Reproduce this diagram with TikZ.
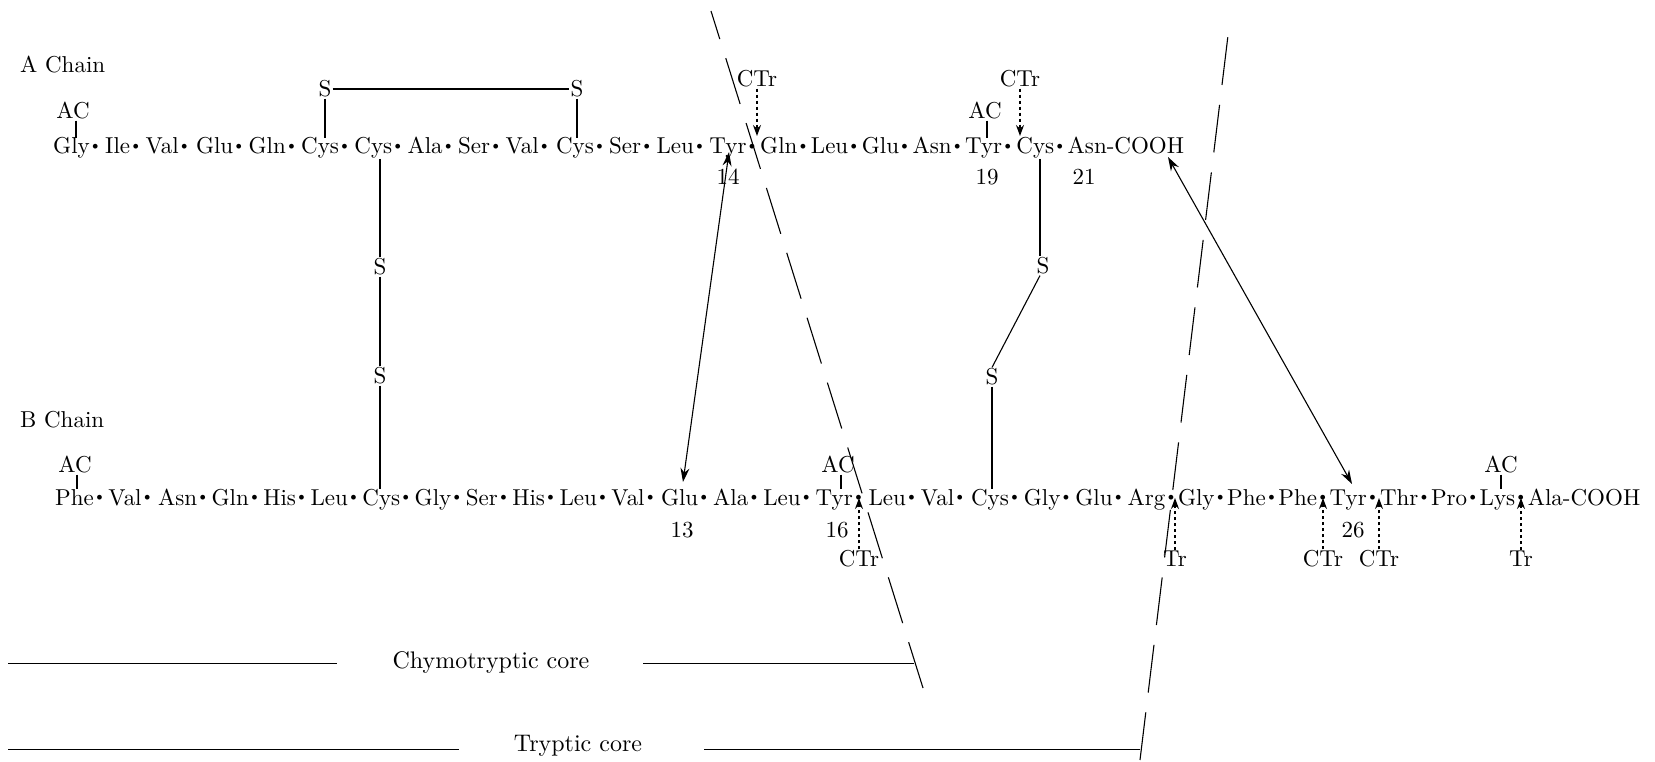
\documentclass[tikz,border=0pt]{standalone}
\usepackage{fontspec}
\setmainfont{lmroman10-regular.otf}
\usetikzlibrary{arrows.meta}
\newcommand\rfont{\fontsize{23}{27}\selectfont}
\newcommand\cfont{\fontsize{24}{29}\selectfont}
\newcommand\rdot{\kern-0.8pt\raisebox{0.16em}{\scalebox{0.72}{\textbullet}}}
\begin{document}
\begin{tikzpicture}[x=1pt,y=-1pt,
  res/.style={anchor=base west,inner sep=0pt,font=\rfont},
  lab/.style={inner sep=1pt,font=\rfont},
  bond/.style={line width=1.1pt},
  enz/.style={line width=1.1pt,dash pattern=on 3.5pt off 2.5pt,-{Stealth[length=11pt,width=8pt]}},
  link/.style={line width=1.1pt,{Stealth[length=14pt,width=9pt]}-{Stealth[length=14pt,width=9pt]}},
  corebound/.style={line width=1.1pt,dash pattern=on 48pt off 20pt},
  coreline/.style={line width=1pt}]
\fill[white] (0,0) rectangle (1655,762);
\useasboundingbox (0,0) rectangle (1655,762);

% chain titles
\node[lab,anchor=west] (achain) at (19,65) {A Chain};
\node[lab,anchor=west] (bchain) at (19,420) {B Chain};

% A chain residues
\foreach \n/\x/\t in {1/53/Gly,2/105/Ile,3/145.3/Val,4/195.8/Glu,5/248.4/Gln,6/301/Cys,
  7/354.2/Cys,8/407.4/Ala,9/457.9/Ser,10/505.3/Val,11/555.8/Cys,12/609/Ser,13/656.4/Leu,
  14/709.2/Tyr,15/760/Gln,16/810.7/Leu,17/861.6/Glu,18/912.3/Asn,19/964.9/Tyr,20/1016.2/Cys}
  \node[res] (a\n) at (\x,154) {\t\rdot};
\node[res] (a21) at (1067.5,154) {Asn-COOH};

% B chain residues
\foreach \n/\x/\t in {1/55/Phe,2/108.2/Val,3/157.8/Asn,4/211.4/Gln,5/263.1/His,6/310.3/Leu,
  7/362.2/Cys,8/414.5/Gly,9/465.6/Ser,10/512.1/His,11/559.3/Leu,12/611.2/Val,13/660.8/Glu,
  14/713/Ala,15/763.1/Leu,16/815.5/Tyr,17/868.3/Leu,18/920.7/Val,19/970.8/Cys,20/1023.6/Gly,
  21/1075.2/Glu,22/1127.4/Arg,23/1177.8/Gly,24/1227/Phe,25/1278.2/Phe,26/1329.5/Tyr,
  27/1379.8/Thr,28/1430.8/Pro,29/1479.5/Lys}
  \node[res] (b\n) at (\x,505) {\t\rdot};
\node[res] (b30) at (1527.6,505) {Ala-COOH};

% residue numbers
\node[lab] (n14) at (728,177) {14};
\node[lab] (n19) at (987,177) {19};
\node[lab] (n21) at (1084,177) {21};
\node[lab] (n13) at (682,530) {13};
\node[lab] (n16) at (837,530) {16};
\node[lab] (n26) at (1353,530) {26};

% AC labels
\node[lab] (acA1) at (73,111) {AC};
\node[lab] (acA19) at (985,111) {AC};
\node[lab] (acB1) at (75,465) {AC};
\node[lab] (acB16) at (838,465) {AC};
\node[lab] (acB29) at (1501,465) {AC};
\draw[bond] ([xshift=3pt]acA1.south) -- ([xshift=3pt]acA1.south |- a1.north);
\draw[bond] ([xshift=2pt]acA19.south) -- ([xshift=2pt]acA19.south |- a19.north);
\draw[bond] ([xshift=2pt]acB1.south) -- ([xshift=2pt]acB1.south |- b1.north);
\draw[bond] ([xshift=3pt]acB16.south) -- ([xshift=3pt]acB16.south |- b16.north);
\draw[bond] (acB29.south) -- (acB29.south |- b29.north);

% disulfide bridges
\node[lab] (s1) at (325,89) {S};
\node[lab] (s2) at (577,89) {S};
\node[lab] (s3) at (380,267) {S};
\node[lab] (s4) at (380,376) {S};
\node[lab] (s5) at (1043,266) {S};
\node[lab] (s6) at (992,377) {S};
\draw[bond] (s1.east) -- (s2.west);
\draw[bond] (s1.south) -- (s1.south |- a6.north);
\draw[bond] (s2.south) -- (s2.south |- a11.north);
\draw[bond] (s3.north |- a7.south) -- (s3.north);
\draw[bond] (s3.south) -- (s4.north);
\draw[bond] (s4.south) -- (s4.south |- b7.north);
\draw[bond] ([xshift=-3pt]s5.north |- a20.south) -- ([xshift=-3pt]s5.north);
\draw[bond] ([xshift=-3pt]s5.south) -- (s6.north);
\draw[bond] (s6.south) -- (s6.south |- b19.north);

% enzyme cleavage sites
\coordinate (atip) at (0,136);
\coordinate (btip) at (0,498);
\node[lab] (ctA1) at (757,79) {CTr};
\node[lab] (ctA2) at (1020,79) {CTr};
\draw[enz] (ctA1.south) -- (ctA1.south |- atip);
\draw[enz] (ctA2.south) -- (ctA2.south |- atip);
\node[lab] (ctB1) at (859,559) {CTr};
\node[lab] (trB1) at (1175,559) {Tr};
\node[lab] (ctB2) at (1323,559) {CTr};
\node[lab] (ctB3) at (1379,559) {CTr};
\node[lab] (trB2) at (1521,559) {Tr};
\foreach \c in {ctB1,trB1,ctB2,ctB3,trB2}
  \draw[enz] (\c.north) -- (\c.north |- btip);

% spatial proximity arrows
\coordinate (u1) at (729,152);
\coordinate (l1) at (683,482);
\coordinate (u2) at (1168,157);
\coordinate (l2) at (1352,484);
\draw[link] (u1) -- (l1);
\draw[link] (u2) -- (l2);

% core boundaries (drawn from the bottom up)
\coordinate (cb1t) at (711,11);
\coordinate (cb1b) at (923,688);
\coordinate (cb2t) at (1230,19);
\coordinate (cb2b) at (1140,760);
\draw[corebound] (cb1b) -- (cb1t);
\draw[corebound] (cb2b) -- (cb2t);

% core labels
\node[font=\cfont,inner sep=0pt] (chymo) at (491,662) {Chymotryptic core};
\node[font=\cfont,inner sep=0pt] (tryp) at (578,746) {Tryptic core};
\coordinate (ch0) at (8,663);
\coordinate (ch1) at (337,663);
\coordinate (ch2) at (643,663);
\coordinate (ch3) at (914,663);
\coordinate (tr0) at (8,749);
\coordinate (tr1) at (459,749);
\coordinate (tr2) at (704,749);
\coordinate (tr3) at (1140,749);
\draw[coreline] (ch0) -- (ch1);
\draw[coreline] (ch2) -- (ch3);
\draw[coreline] (tr0) -- (tr1);
\draw[coreline] (tr2) -- (tr3);
\end{tikzpicture}
\end{document}
